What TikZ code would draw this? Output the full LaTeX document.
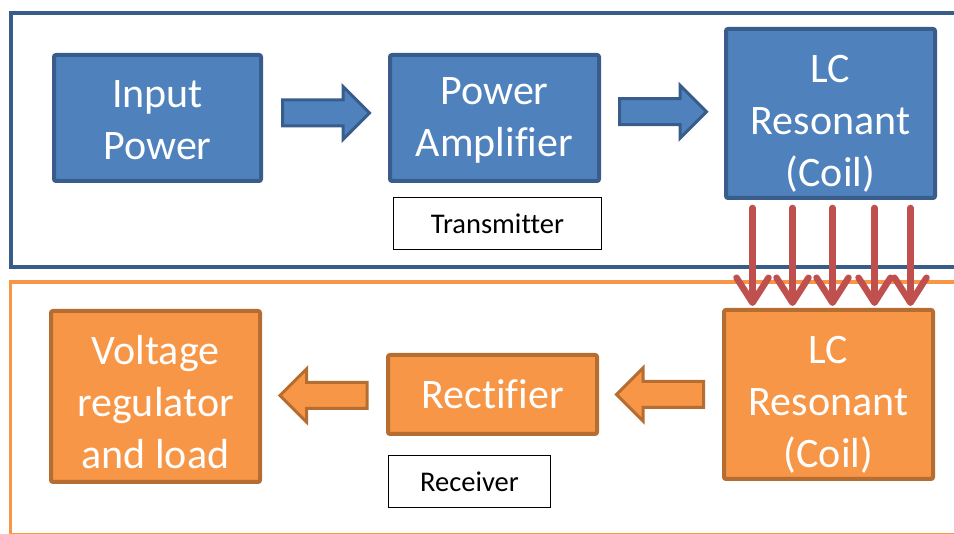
\documentclass[tikz,border=0pt]{standalone}
\usepackage{fontspec}
\setmainfont{Carlito}[Ligatures=NoCommon]
\usetikzlibrary{shapes.arrows,arrows.meta}

\definecolor{txfill}{HTML}{4F81BD}
\definecolor{txline}{HTML}{385D8A}
\definecolor{rxfill}{HTML}{F79646}
\definecolor{rxline}{HTML}{B66D31}
\definecolor{fluxred}{HTML}{C0504D}

\tikzset{
  block/.style={draw,line width=4pt,rounded corners=2pt,text=white,align=center,
    inner sep=0pt,font=\fontsize{42}{52}\selectfont},
  txblock/.style={block,fill=txfill,draw=txline},
  rxblock/.style={block,fill=rxfill,draw=rxline},
  tag/.style={draw=black,line width=1.2pt,fill=white,inner sep=0pt,
    font=\fontsize{28.5}{34}\selectfont},
  fatarrow/.style={single arrow,line width=3pt,minimum height=87pt,minimum width=1pt,
    inner xsep=0pt,inner ysep=11.5pt,single arrow head extend=13.5pt,single arrow tip angle=90},
  txarrow/.style={fatarrow,fill=txfill,draw=txline,xshift=-6pt},
  rxarrow/.style={fatarrow,fill=rxfill,draw=rxline,shape border rotate=180,xshift=6pt},
  flux/.style={fluxred,line width=6.5pt,line cap=round,
    -{Straight Barb[length=25pt,width=32pt,line cap=round,line join=round]},
    shorten <=8pt,shorten >=2pt}
}

\begin{document}
\begin{tikzpicture}[x=1pt,y=1pt]
\useasboundingbox (0,0) rectangle (954,534);
\clip (0,0) rectangle (954,534);

% Frames
\draw[txline,line width=4pt] (10.5,521) rectangle (970,267);
\draw[rxfill,line width=3.5pt] (10.5,252) rectangle (970,-1);

% Transmitter side
\node[txblock,minimum width=207pt,minimum height=126pt] (inp) at (157.5,416) {\rule{0pt}{32pt}Input\\Power};
\node[txblock,minimum width=209pt,minimum height=126pt] (amp) at (494.5,416) {\rule{0pt}{32pt}Power\\Amplifier};
\node[txblock,minimum width=209pt,minimum height=169pt] (txlc) at (830.5,420.5) {\rule{0pt}{47pt}LC\\Resonant\\(Coil)};
\node[tag,minimum width=208pt,minimum height=52pt] (txlab) at (497.5,310.5) {Transmitter};

% Receiver side
\node[rxblock,minimum width=209pt,minimum height=169pt] (rxlc) at (828.5,139.5) {\rule{0pt}{47pt}LC\\Resonant\\(Coil)};
\node[rxblock,minimum width=209pt,minimum height=79pt] (rect) at (492.5,139.5) {Rectifier};
\node[rxblock,minimum width=209pt,minimum height=171pt] (load) at (155.5,137.5) {\rule{0pt}{41pt}Voltage\\regulator\\and load};
\node[tag,minimum width=162pt,minimum height=52pt] (rxlab) at (469.5,52.5) {Receiver};

% Block arrows
\path (inp) -- node[txarrow,yshift=5pt] {} (amp);
\path (amp) -- node[txarrow,yshift=4pt] {} (txlc);
\path (rxlc) -- node[rxarrow] {} (rect);
\path (rect) -- node[rxarrow] {} (load);

% Coupling between the coils
\foreach \dx in {-78,-38,2,44,80}
  \draw[flux] ([xshift=\dx]txlc.south) -- ([xshift=\dx]txlc.south |- rxlc.north);
\end{tikzpicture}
\end{document}
